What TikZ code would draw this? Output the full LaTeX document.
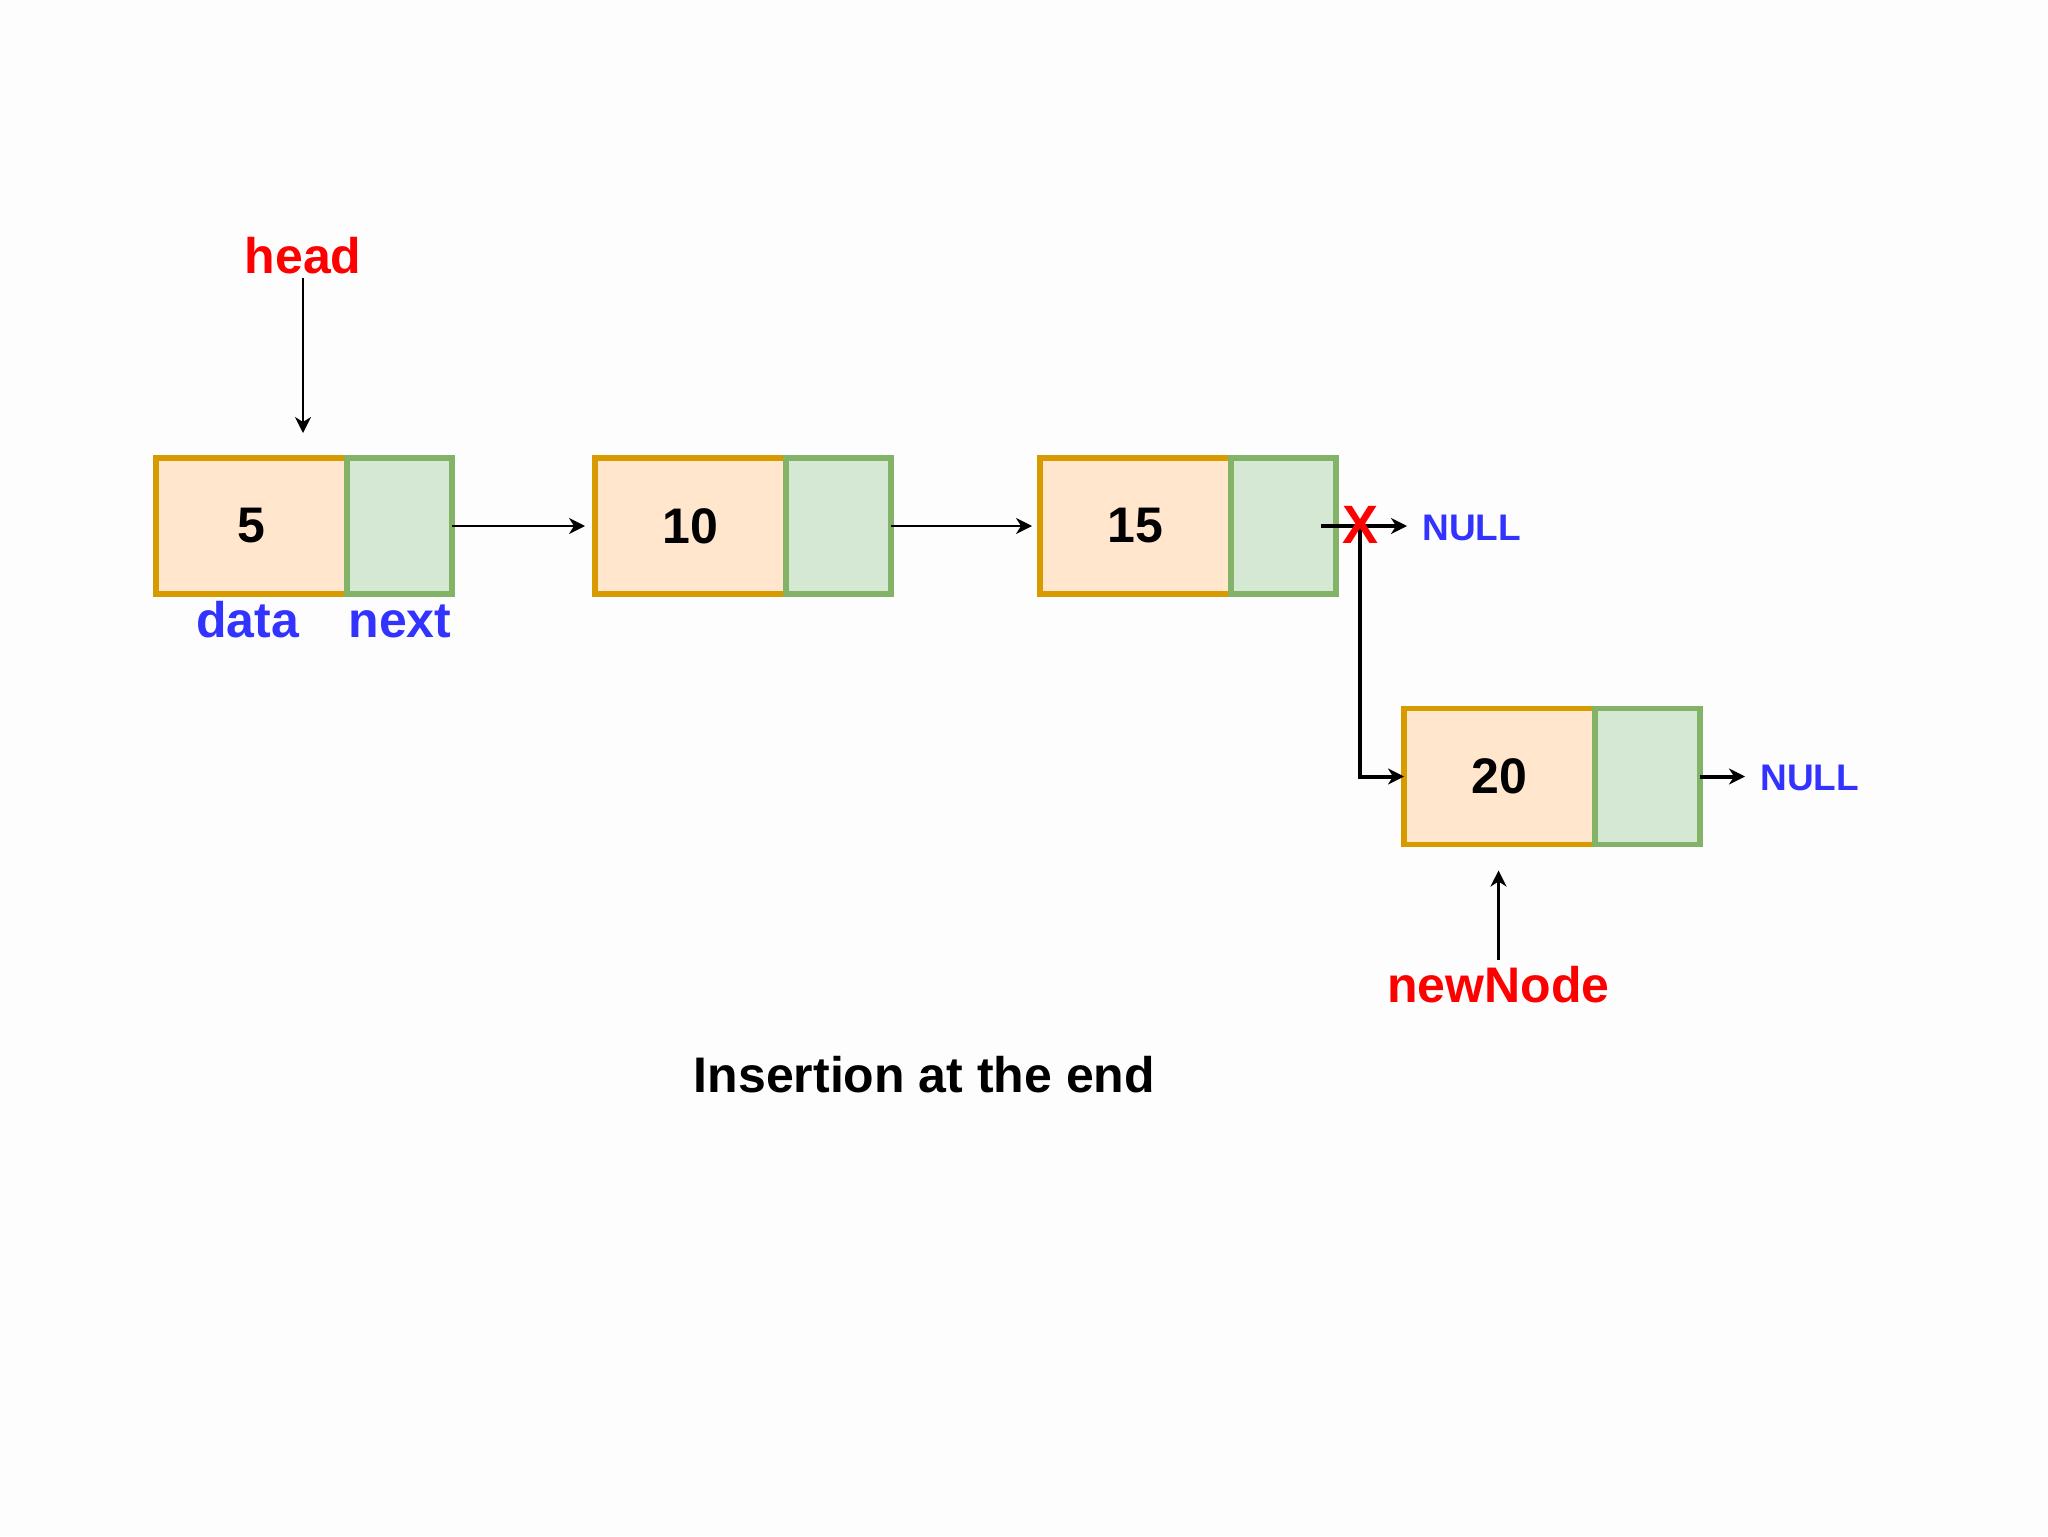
\documentclass[tikz,border=0pt]{standalone}
\usepackage{fontspec}
\setmainfont{Liberation Sans}
\usetikzlibrary{arrows.meta}
\definecolor{dataFill}{HTML}{FFE6CC}
\definecolor{dataLine}{HTML}{D79B00}
\definecolor{nextFill}{HTML}{D5E8D4}
\definecolor{nextLine}{HTML}{82B366}
\definecolor{lblRed}{HTML}{FF0000}
\definecolor{lblBlue}{HTML}{3333FF}
\definecolor{bgc}{HTML}{FDFDFD}
\begin{document}
\begin{tikzpicture}[x=0.5pt,y=-0.5pt,
  datacell/.style={draw=dataLine,fill=dataFill,line width=2.75pt,outer sep=0pt,minimum width=95.5pt,minimum height=68pt,inner sep=0pt,font=\fontsize{25}{30}\selectfont\bfseries},
  nextcell/.style={draw=nextLine,fill=nextFill,line width=2.75pt,outer sep=0pt,minimum width=52.5pt,minimum height=68pt,inner sep=0pt,anchor=west},
  redlbl/.style={text=lblRed,inner sep=0pt,font=\fontsize{25}{30}\selectfont\bfseries},
  bluelbl/.style={text=lblBlue,inner sep=0pt,font=\fontsize{25}{30}\selectfont\bfseries},
  nulllbl/.style={text=lblBlue,inner sep=0pt,anchor=base west,font=\fontsize{18.5}{22}\selectfont\bfseries},
  tip/.style={-{Stealth[length=8pt,width=8pt,inset=2.5pt]}},
  thinarrow/.style={tip,line width=1pt},
  thickarrow/.style={tip,line width=2pt}]
\fill[bgc] (0,0) rectangle (2048,1536);
\useasboundingbox (0,0) rectangle (2048,1536);

% list nodes
\node[datacell] (d1) at (251.5,526) {5};
\node[nextcell] (n1) at (d1.east) {};
\node[datacell] (d2) at (690.5,526) {10};
\node[nextcell] (n2) at (d2.east) {};
\node[datacell] (d3) at (1135.5,526) {15};
\node[nextcell] (n3) at (d3.east) {};
\node[datacell] (d4) at (1499.5,776.5) {20};
\node[nextcell] (n4) at (d4.east) {};

% labels
\node[redlbl,anchor=base] (head) at (303,273) {head};
\node[bluelbl,anchor=base] (datalbl) at (247.5,637) {data};
\node[bluelbl,anchor=base] (nextlbl) at (400,637) {next};
\node[nulllbl] (null1) at (1422,540) {NULL};
\node[nulllbl] (null2) at (1760,790) {NULL};
\node[redlbl,anchor=base] (newnode) at (1498.5,1002) {newNode};
\node[inner sep=0pt,anchor=base,font=\fontsize{25}{30}\selectfont\bfseries] (title) at (924.5,1092) {Insertion at the end};

% connectors
\draw[thinarrow,shorten <=2pt,shorten >=12.5pt] (head.south) -- (head.south |- d1.north);
\draw[thinarrow,shorten >=5pt] (n1.east) -- (d2.west);
\draw[thinarrow,shorten >=4pt] (n2.east) -- (d3.west);
\coordinate (n3out) at ([xshift=-7.5pt]n3.east);
\draw[thickarrow,shorten >=7.5pt] (n3out) -- (n3out -| null1.west);
\coordinate (bend) at (1360,526);
\draw[thickarrow] (bend) |- (d4.west);
\draw[thickarrow,shorten >=7.5pt] (n4.east) -- (n4.east -| null2.west);
\draw[tip,line width=1.5pt,shorten <=2.5pt,shorten >=13pt] (newnode.north) -- (newnode.north |- d4.south);

% cross on the old link
\node[redlbl,anchor=base,font=\fontsize{27}{32}\selectfont\bfseries] (cross) at (1360,543) {X};
\end{tikzpicture}
\end{document}
